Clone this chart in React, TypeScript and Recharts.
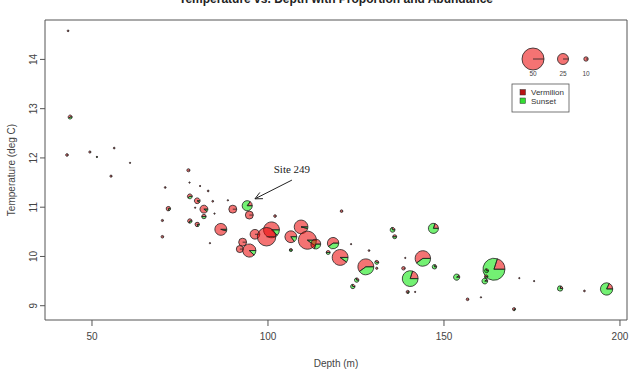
import React from 'react';
import { ScatterChart, Scatter, XAxis, YAxis, ReferenceArea, ReferenceLine } from 'recharts';

// site depth (m), bottom temperature (deg C), abundance, share of Vermilion
const depths = [
  43.2, 43.8, 42.9, 49.4, 51.4, 56.3, 55.4, 60.8, 77.4, 77.7, 70.8, 80.7, 83.0, 77.8, 79.9, 79.3,
  81.8, 84.3, 84.8, 71.7, 70.0, 70.0, 77.8, 81.8, 79.9, 88.6, 90.0, 94.1, 94.7, 86.6, 83.5, 96.3,
  101.0, 99.6, 92.8, 92.0, 94.7, 102.0, 106.5, 106.5, 109.4, 111.2, 113.6, 118.5, 117.1, 120.5, 120.9, 123.6,
  128.7, 127.8, 130.9, 130.9, 125.2, 124.1, 135.4, 136.0, 138.5, 139.0, 140.4, 139.7, 141.8, 147.0, 144.0, 147.3,
  153.6, 156.7, 160.5, 164.2, 162.1, 162.0, 161.6, 169.9, 171.4, 175.6, 183.0, 189.9, 196.2,
];
const temps = [
  14.58, 12.83, 12.06, 12.12, 12.02, 12.2, 11.63, 11.9, 11.75, 11.5, 11.4, 11.43, 11.33, 11.22, 11.13, 10.99,
  10.96, 11.12, 10.87, 10.97, 10.73, 10.4, 10.72, 10.81, 10.65, 11.14, 10.96, 11.03, 10.84, 10.55, 10.27, 10.45,
  10.54, 10.4, 10.29, 10.15, 10.12, 10.82, 10.4, 10.13, 10.6, 10.33, 10.25, 10.27, 10.08, 9.98, 10.92, 10.25,
  10.12, 9.79, 9.88, 9.76, 9.52, 9.39, 10.54, 10.4, 9.76, 9.97, 9.55, 9.28, 9.28, 10.57, 9.96, 9.79,
  9.58, 9.13, 9.17, 9.74, 9.71, 9.59, 9.5, 8.93, 9.56, 9.5, 9.35, 9.3, 9.34,
];
const abundances = [
  4, 9, 6, 5, 3, 4, 5, 3, 7, 3, 4, 3, 4, 11, 13, 3,
  18, 4, 3, 10, 5, 6, 10, 10, 10, 3, 18, 23, 18, 27, 3, 22,
  36, 42, 18, 16, 30, 6, 27, 7, 31, 41, 22, 26, 9, 36, 6, 3,
  4, 36, 9, 5, 10, 10, 11, 9, 8, 3, 36, 7, 3, 23, 35, 10,
  14, 6, 3, 50, 9, 8, 13, 7, 3, 3, 12, 4, 28,
];
const vermilionShare = [
  1, 0.6, 1, 1, 0.5, 1, 1, 1, 1, 1, 1, 1, 1, 0.6, 0.9, 1,
  0.9, 1, 1, 0.8, 1, 1, 0.7, 0.5, 0.8, 1, 1, 0.15, 1, 0.96, 1, 1,
  0.88, 1, 1, 1, 0.88, 1, 0.85, 0.5, 0.96, 0.9, 0.7, 0.6, 0.5, 0.9, 1, 1,
  1, 0.6, 0.4, 1, 0.3, 0.3, 0.3, 0.5, 1, 1, 0.2, 0.8, 1, 0.2, 0.6, 0.2,
  0.1, 1, 1, 0.2, 0.3, 0.6, 0.1, 0.8, 1, 1, 0.2, 1, 0.18,
];
const sizeLegend = [50, 25, 10];
const speciesNames = ['Vermilion', 'Sunset'];

const xTicks = [50, 100, 150, 200];
const yTicks = [9, 10, 11, 12, 13, 14];

// annotation "Site 249": label/tail point and arrow head
const siteArrow = [
  { x: 106.8, y: 11.55 },
  { x: 96.3, y: 11.17 },
];

const data = depths.map((d, i) => ({
  depth: d,
  temp: temps[i],
  abundance: abundances[i],
  share: vermilionShare[i],
}));

const RED = 'rgba(235,0,0,0.55)';
const GREEN = 'rgba(0,230,0,0.55)';
const EDGE = '#222';
const RADIUS_PER_UNIT = 0.22;
const FONT = '"Liberation Sans", Arial, sans-serif';

function slicePath(cx: number, cy: number, r: number, a0: number, a1: number) {
  const x0 = cx + r * Math.cos(a0);
  const y0 = cy - r * Math.sin(a0);
  const x1 = cx + r * Math.cos(a1);
  const y1 = cy - r * Math.sin(a1);
  const large = a1 - a0 > Math.PI ? 1 : 0;
  return `M${cx},${cy} L${x0},${y0} A${r},${r} 0 ${large} 0 ${x1},${y1} Z`;
}

function MiniPie({ cx, cy, r, share }: { cx: number; cy: number; r: number; share: number }) {
  if (share >= 0.999 || share <= 0.001) {
    return (
      <g>
        <circle cx={cx} cy={cy} r={r} fill={share >= 0.999 ? RED : GREEN} stroke={EDGE} strokeWidth={0.8} />
        <line x1={cx} y1={cy} x2={cx + r} y2={cy} stroke={EDGE} strokeWidth={0.8} />
      </g>
    );
  }
  const split = share * 2 * Math.PI;
  return (
    <g>
      <path d={slicePath(cx, cy, r, 0, split)} fill={RED} stroke={EDGE} strokeWidth={0.8} />
      <path d={slicePath(cx, cy, r, split, 2 * Math.PI)} fill={GREEN} stroke={EDGE} strokeWidth={0.8} />
    </g>
  );
}

const PieShape = (props: any) => {
  const { cx, cy, payload } = props;
  if (cx == null || cy == null) return null;
  return <MiniPie cx={cx} cy={cy} r={payload.abundance * RADIUS_PER_UNIT} share={payload.share} />;
};

const RotatedTick = (props: any) => {
  const { x, y, payload } = props;
  return (
    <text
      x={x}
      y={y}
      transform={`rotate(-90, ${x}, ${y})`}
      textAnchor="middle"
      fontSize={10}
      fontFamily={FONT}
      fill="#444"
    >
      {payload.value}
    </text>
  );
};

const ArrowShape = (props: any) => {
  const { x1, y1, x2, y2 } = props;
  if ([x1, y1, x2, y2].some((v) => v == null)) return null;
  const ang = Math.atan2(y2 - y1, x2 - x1);
  const len = 8;
  const spread = Math.PI / 7;
  const hx1 = x2 - len * Math.cos(ang - spread);
  const hy1 = y2 - len * Math.sin(ang - spread);
  const hx2 = x2 - len * Math.cos(ang + spread);
  const hy2 = y2 - len * Math.sin(ang + spread);
  return (
    <g>
      <line x1={x1} y1={y1} x2={x2} y2={y2} stroke="#222" strokeWidth={1} />
      <line x1={x2} y1={y2} x2={hx1} y2={hy1} stroke="#222" strokeWidth={1} />
      <line x1={x2} y1={y2} x2={hx2} y2={hy2} stroke="#222" strokeWidth={1} />
      <text x={x1} y={y1 - 7} textAnchor="middle" fontSize={11} fontFamily='"Liberation Serif", "Times New Roman", serif' fill="#222">
        Site 249
      </text>
    </g>
  );
};

const Overlay = () => {
  const legendX = [533, 563, 586];
  return (
    <svg width={633} height={371} style={{ position: 'absolute', left: 0, top: 0, pointerEvents: 'none' }}>
      <text x={336} y={3} textAnchor="middle" fontSize={12} fontWeight="bold" fontFamily={FONT} fill="#222">
        Temperature vs. Depth with Proportion and Abundance
      </text>
      <text
        x={15}
        y={170}
        transform="rotate(-90, 15, 170)"
        textAnchor="middle"
        fontSize={10}
        fontFamily={FONT}
        fill="#444"
      >
        Temperature (deg C)
      </text>
      {sizeLegend.map((v, i) => (
        <g key={v}>
          <MiniPie cx={legendX[i]} cy={59} r={v * RADIUS_PER_UNIT} share={1} />
          <text x={legendX[i]} y={76} textAnchor="middle" fontSize={6.5} fontFamily={FONT} fill="#444">
            {v}
          </text>
        </g>
      ))}
      <rect x={512} y={84} width={57} height={28} fill="#fff" stroke="#555" strokeWidth={0.8} />
      {speciesNames.map((name, i) => (
        <g key={name}>
          <rect
            x={520}
            y={89.5 + i * 8.5}
            width={5.5}
            height={5.5}
            fill={i === 0 ? '#B81414' : '#33DD33'}
            stroke="#333"
            strokeWidth={0.5}
          />
          <text x={531} y={95 + i * 8.5} fontSize={8} fontFamily={FONT} fill="#333">
            {name}
          </text>
        </g>
      ))}
    </svg>
  );
};

export default function App() {
  return (
    <div style={{ position: 'absolute', left: 0, top: 0, width: 633, height: 371, background: '#fff' }}>
      <ScatterChart width={633} height={371} margin={{ top: 20, right: 6, bottom: 0, left: 0 }}>
        <XAxis
          type="number"
          dataKey="depth"
          domain={[36.65, 202]}
          ticks={xTicks}
          allowDataOverflow
          axisLine={false}
          tickLine={{ stroke: '#555' }}
          tickSize={6}
          tickMargin={7}
          height={51}
          tick={{ fontSize: 10, fontFamily: FONT, fill: '#444' }}
          label={{ value: 'Depth (m)', position: 'insideBottom', offset: 4, fontSize: 10, fontFamily: FONT, fill: '#444' }}
        />
        <YAxis
          type="number"
          dataKey="temp"
          domain={[8.71, 14.8]}
          ticks={yTicks}
          allowDataOverflow
          axisLine={false}
          tickLine={{ stroke: '#555' }}
          tickSize={5}
          tickMargin={3}
          width={45}
          tick={<RotatedTick />}
        />
        <ReferenceArea
          x1={36.65}
          x2={202}
          y1={8.71}
          y2={14.8}
          fill="none"
          fillOpacity={0}
          stroke="#555"
          strokeWidth={1}
          ifOverflow="visible"
        />
        <Scatter data={data} shape={<PieShape />} isAnimationActive={false} />
        <ReferenceLine segment={siteArrow} shape={<ArrowShape />} ifOverflow="visible" />
      </ScatterChart>
      <Overlay />
    </div>
  );
}
